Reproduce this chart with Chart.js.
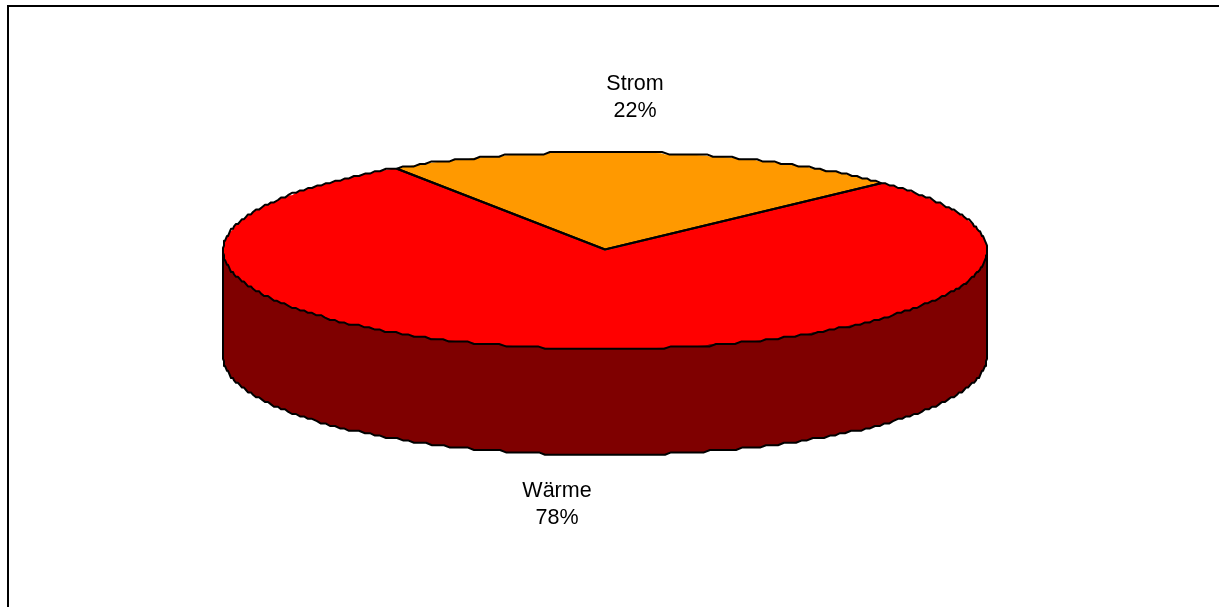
<!DOCTYPE html>
<html lang="de">
<head>
<meta charset="utf-8">
<title>Strom und Wärme</title>
<script src="https://cdn.jsdelivr.net/npm/chart.js@4"></script>
<style>
html,body{margin:0;padding:0;background:#fff;overflow:hidden}
#wrap{position:absolute;left:0;top:0;width:1219px;height:607px}
#frame{position:absolute;left:7px;top:5px;right:0;bottom:0;border-left:2px solid #000;border-top:2px solid #000;pointer-events:none}
</style>
</head>
<body>
<div id="wrap"><canvas id="c" width="1219" height="607"></canvas><div id="frame"></div></div>
<script>
const categories = ['Strom', 'Wärme'];
const shares = [22, 78];
const topColors = ['#FF9900', '#FF0000'];
const sideColors = ['#7F4C00', '#7F0000'];
const labelAnchors = [[635, 90], [557, 497]];

const CX = 605, CY = 250.5, RX = 382, RY = 98.5, DEPTH = 106, LH = 27, QX = 1, QY = 2.4;

// the rim follows the slice's angles, snapped to a coarse device grid like the original
function rim(ctx, dy, from, to, first) {
  const step = Math.PI / 180;
  const n = Math.max(1, Math.ceil(Math.abs(to - from) / step));
  for (let i = 0; i <= n; i++) {
    const t = from + (to - from) * i / n;
    const x = CX - RX + Math.round(RX * (1 + Math.cos(t)) / QX) * QX;
    const y = CY + dy - RY + Math.round(RY * (1 + Math.sin(t)) / QY) * QY;
    if (first && i === 0) ctx.moveTo(x, y); else ctx.lineTo(x, y);
  }
}
const pie3d = {
  id: 'pie3d',
  beforeDatasetDraw(chart) {
    const ctx = chart.ctx, arcs = chart.getDatasetMeta(0).data;
    ctx.save();
    arcs.forEach((a, i) => {
      const p = a.getProps(['startAngle', 'endAngle']);
      for (const k of [0, 2]) {
        const s = Math.max(p.startAngle, k * Math.PI), e = Math.min(p.endAngle, k * Math.PI + Math.PI);
        if (e <= s) continue;
        ctx.beginPath();
        rim(ctx, -3, s, e, true);
        rim(ctx, DEPTH, e, s, false);
        ctx.closePath();
        ctx.fillStyle = sideColors[i];
        ctx.fill();
      }
    });
    ctx.beginPath();
    ctx.moveTo(CX - RX, CY);
    rim(ctx, DEPTH, Math.PI, 0, false);
    ctx.lineTo(CX + RX, CY);
    ctx.strokeStyle = '#000';
    ctx.lineWidth = 2;
    ctx.lineJoin = 'round';
    ctx.stroke();
    ctx.restore();
    ctx.save();
    ctx.beginPath();
    rim(ctx, 0, 0, Math.PI * 2, true);
    ctx.closePath();
    ctx.clip();
    const a0 = arcs[0], R = a0.outerRadius;
    ctx.translate(CX, CY);
    ctx.scale(RX / R, RY / R);
    ctx.translate(-a0.x, -a0.y);
  },
  afterDatasetDraw(chart) {
    const ctx = chart.ctx, arcs = chart.getDatasetMeta(0).data;
    ctx.restore();
    ctx.save();
    ctx.strokeStyle = '#000';
    ctx.lineWidth = 2;
    ctx.lineJoin = 'round';
    arcs.forEach(a => {
      const p = a.getProps(['startAngle', 'endAngle']);
      ctx.beginPath();
      ctx.moveTo(CX, CY - 1);
      rim(ctx, 0, p.startAngle, p.endAngle, false);
      ctx.closePath();
      ctx.stroke();
    });
    ctx.restore();
  },
  afterDraw(chart) {
    const ctx = chart.ctx, total = shares.reduce((s, v) => s + v, 0);
    ctx.save();
    ctx.fillStyle = '#000';
    ctx.font = '21.5px "Liberation Sans", Arial, sans-serif';
    ctx.textAlign = 'center';
    ctx.textBaseline = 'alphabetic';
    categories.forEach((name, i) => {
      const [x, y] = labelAnchors[i];
      ctx.fillText(name, x, y);
      ctx.fillText(Math.round(shares[i] / total * 100) + '%', x, y + LH);
    });
    ctx.restore();
  }
};

new Chart(document.getElementById('c'), {
  type: 'pie',
  data: {
    labels: categories,
    datasets: [{ data: shares, backgroundColor: topColors, borderWidth: 0, clip: false }]
  },
  options: {
    responsive: false,
    animation: false,
    events: [],
    rotation: -33,
    layout: { padding: 0 },
    plugins: { legend: { display: false }, tooltip: { enabled: false }, title: { display: false } }
  },
  plugins: [pie3d]
});
</script>
</body>
</html>
